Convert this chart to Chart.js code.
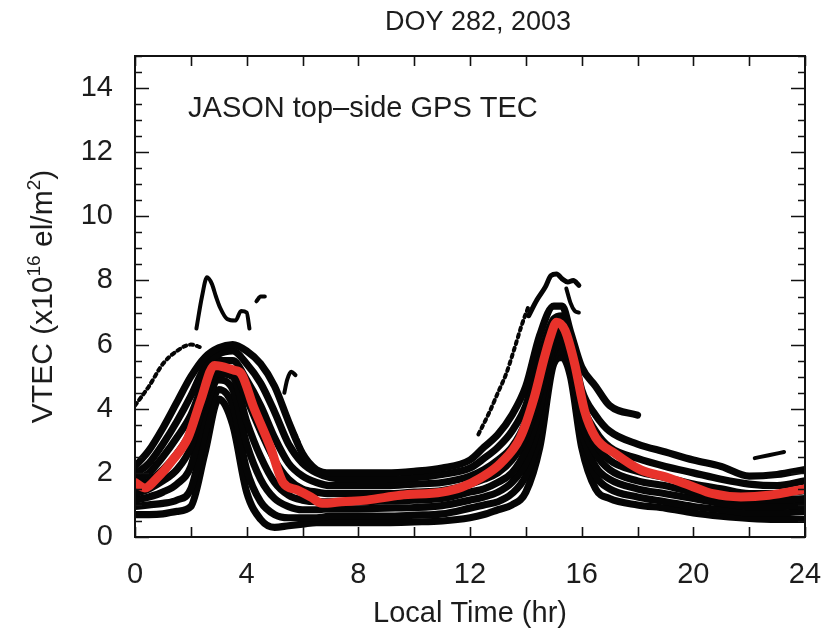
<!DOCTYPE html>
<html><head><meta charset="utf-8">
<script src="https://cdn.jsdelivr.net/npm/chart.js@4.4.1/dist/chart.umd.min.js"></script>
<style>html,body{margin:0;padding:0;background:#fff;}</style>
</head><body>
<canvas id="c" width="829" height="634"></canvas>
<script>
// ---------- text ----------
const chartTitle = 'DOY 282, 2003';
const xAxisTitle = 'Local Time (hr)';
const panelLabel = 'JASON top\u2013side GPS TEC';

// ---------- tick labels ----------
const xTickLabels = [0, 4, 8, 12, 16, 20, 24];
const yTickLabels = [0, 2, 4, 6, 8, 10, 12, 14];

// ---------- black pass tracks (local time in hr, VTEC in 1e16 el/m^2) ----------
const trackHours = [0,0.5,1,1.5,2,2.5,3,3.5,4,4.5,5,5.5,6,6.5,7,8,9,10,11,12,12.5,13,13.5,14,14.5,15,15.3,15.6,16,16.5,17,18,19,20,21,22,23,24];
const track1 = [2.2,2.7,3.4,4.2,5.0,5.6,5.9,6.0,5.8,5.4,4.7,3.6,2.6,2.1,2.0, 2.0,2.0,2.05,2.15, 2.4,2.8,3.2,3.8,4.7,6.3,7.2, 7.2,6.4, 5.3,4.7,4.1, 3.8,null,null,null,null,null,null];
const track2 = [1.95,2.3,2.9,3.6,4.4,5.3,5.7,5.8,5.4,4.8,3.9,2.9,2.3,2.0,1.85, 1.8,1.8,1.85,1.95, 2.15,2.45,2.8,3.3,4.1,5.6,6.8, 6.9,6.2, 4.6,3.8,3.3, 2.9,2.65,2.4,2.2,1.9,1.95,2.1];
const track3 = [1.75,2.0,2.5,3.1,3.8,4.9,5.5,5.5,4.9,4.1,3.1,2.3,1.9,1.7,1.6, 1.6,1.6,1.65,1.7, 1.9,2.1,2.4,2.8,3.6,5.0,6.5, 6.6,6.0, 4.2,3.3,2.8, 2.45,2.2,2.0,1.8,1.65,1.6,1.75];
const track4 = [1.55,1.75,2.1,2.6,3.3,4.6,5.3,5.2,4.3,3.3,2.4,1.8,1.5,1.4,1.35, 1.35,1.35,1.4,1.45, 1.65,1.8,2.0,2.4,3.1,4.5,6.2, 6.4,5.8, 3.9,2.9,2.4, 2.05,1.85,1.65,1.5,1.35,1.35,1.45];
const track5 = [1.35,1.5,1.75,2.1,2.8,4.3,5.1,5.0,3.6,2.5,1.7,1.3,1.15,1.1,1.1, 1.1,1.12,1.15,1.2, 1.4,1.5,1.7,2.0,2.7,4.0,6.0, 6.2,5.6, 3.6,2.6,2.1, 1.75,1.6,1.4,1.25,1.15,1.15,1.2];
const track6 = [1.15,1.25,1.4,1.65,2.2,3.9,4.9,4.6,2.9,1.8,1.2,0.95,0.85,0.85,0.88, 0.88,0.9,0.92,0.98, 1.15,1.25,1.4,1.7,2.3,3.6,5.8, 6.0,5.4, 3.3,2.2,1.8, 1.5,1.35,1.2,1.05,0.95,0.95,1.0];
const track7 = [0.95,1.0,1.05,1.15,1.5,3.2,4.6,4.1,2.1,1.1,0.7,0.6,0.6,0.6,0.65, 0.65,0.65,0.68,0.72, 0.9,1.0,1.1,1.35,1.9,3.2,5.6, 5.8,5.2, 3.0,1.9,1.5, 1.25,1.1,0.95,0.85,0.75,0.75,0.8];
const track8 = [0.7,0.7,0.72,0.8,0.95,2.6,4.3,3.5,1.4,0.55,0.3,0.35,0.4,0.45,0.45, 0.45,0.45,0.47,0.5, 0.6,0.7,0.85,1.0,1.4,2.8,5.4, 5.6,5.0, 2.8,1.5,1.2, 1.0,0.9,0.75,0.65,0.58,0.55,0.55];

// ---------- isolated / partial passes ----------
const amEarlyHours = [0, 0.5, 1, 1.5, 2, 2.4];
const amEarlyVTEC  = [4.1, 4.7, 5.4, 5.8, 6.0, 5.9];
const amSpikeHours = [2.2, 2.4, 2.58, 2.75, 2.9, 3.05, 3.3, 3.6, 3.8, 4.0, 4.1];
const amSpikeVTEC  = [6.5, 7.5, 8.1, 7.9, 7.5, 7.15, 6.8, 6.75, 7.05, 7.0, 6.5];
const amDashHours  = [4.35, 4.5, 4.65];
const amDashVTEC   = [7.35, 7.5, 7.5];
const amHookHours  = [5.35, 5.45, 5.6, 5.75];
const amHookVTEC   = [4.5, 4.9, 5.15, 5.05];
const amDotsHours  = [5.6, 5.8, 5.95];
const amDotsVTEC   = [3.4, 3.1, 2.75];
const pmRiseHours  = [12.3, 12.7, 13.0, 13.3, 13.6, 13.85, 14.1];
const pmRiseVTEC   = [3.2, 3.9, 4.5, 5.1, 5.9, 6.6, 7.2];
const pmSpikeHours = [14.1, 14.4, 14.7, 14.9, 15.1, 15.3, 15.5, 15.7, 15.9];
const pmSpikeVTEC  = [6.9, 7.4, 7.8, 8.15, 8.2, 8.05, 7.95, 8.0, 7.85];
const pmHookHours  = [15.45, 15.6, 15.75, 15.9];
const pmHookVTEC   = [7.75, 7.3, 7.05, 7.0];
const pmDashHours  = [22.2, 22.7, 23.25];
const pmDashVTEC   = [2.46, 2.55, 2.65];

// ---------- red mean curve ----------
const meanHours = [0,0.35,0.8,1.3,1.9,2.35,2.85,3.2,3.55,3.8,4.25,4.85,5.3,5.8,6.3,6.7,7.4,8.3,9.5,11,11.7,12.4,13.1,13.8,14.3,14.65,14.9,15.1,15.4,15.75,16.1,16.5,17.2,18.1,19.1,19.9,20.7,21.7,22.7,24];
const meanVTEC  = [1.7,1.53,1.85,2.35,3.1,4.25,5.35,5.3,5.2,5.1,4.05,2.8,1.7,1.47,1.25,1.05,1.1,1.15,1.3,1.4,1.55,1.85,2.3,3.1,4.35,5.55,6.3,6.7,6.45,5.4,3.95,3.1,2.6,2.1,1.85,1.6,1.35,1.25,1.3,1.5];

function pts(xs, ys) {
  const out = [];
  xs.forEach((x, i) => { if (ys[i] !== null && ys[i] !== undefined) out.push({x: x, y: ys[i]}); });
  return out;
}

const FONT = '"Liberation Sans", Arial, Helvetica, sans-serif';
const TEXT = '#1c1c1c';
const BLACK = '#050505';
const RED = '#e8322b';

function trackDS(xs, ys, w) {
  return { data: pts(xs, ys), borderColor: BLACK, borderWidth: w || 7.2, pointRadius: 0,
           showLine: true, cubicInterpolationMode: 'monotone', borderCapStyle: 'round',
           borderJoinStyle: 'round', order: 1 };
}
function dottedDS(xs, ys) {
  const d = trackDS(xs, ys, 4);
  d.borderDash = [3, 4];
  return d;
}

const datasets = [
  { data: pts(meanHours, meanVTEC), borderColor: RED, borderWidth: 9, pointRadius: 0, showLine: true,
    cubicInterpolationMode: 'monotone', borderCapStyle: 'round', borderJoinStyle: 'round', order: 0 },
  trackDS(trackHours, track1), trackDS(trackHours, track2), trackDS(trackHours, track3),
  trackDS(trackHours, track4), trackDS(trackHours, track5), trackDS(trackHours, track6),
  trackDS(trackHours, track7), trackDS(trackHours, track8),
  dottedDS(amEarlyHours, amEarlyVTEC),
  trackDS(amSpikeHours, amSpikeVTEC, 4),
  trackDS(amDashHours, amDashVTEC, 4),
  trackDS(amHookHours, amHookVTEC, 4),
  dottedDS(amDotsHours, amDotsVTEC),
  dottedDS(pmRiseHours, pmRiseVTEC),
  trackDS(pmSpikeHours, pmSpikeVTEC, 5),
  trackDS(pmHookHours, pmHookVTEC, 4),
  trackDS(pmDashHours, pmDashVTEC, 4)
];

const framePlugin = {
  id: 'frame',
  afterDatasetsDraw(chart) {
    const {ctx, chartArea: a, scales: {x, y}} = chart;
    ctx.save();
    // ticks
    ctx.strokeStyle = '#111';
    ctx.lineWidth = 1.6;
    ctx.beginPath();
    for (let v = x.min; v <= x.max; v += 2) {
      const px = Math.round(x.getPixelForValue(v)) + 0.5;
      ctx.moveTo(px, a.bottom); ctx.lineTo(px, a.bottom - 10);
      ctx.moveTo(px, a.top); ctx.lineTo(px, a.top + 10);
    }
    for (let v = y.min; v <= y.max; v += 0.5) {
      const py = Math.round(y.getPixelForValue(v)) + 0.5;
      const len = yTickLabels.includes(v) ? 14 : 7;
      ctx.moveTo(a.left, py); ctx.lineTo(a.left + len, py);
      ctx.moveTo(a.right, py); ctx.lineTo(a.right - len, py);
    }
    ctx.stroke();
    // frame
    ctx.lineWidth = 2;
    ctx.strokeRect(a.left, a.top, a.right - a.left, a.bottom - a.top);
    // chart title
    ctx.fillStyle = TEXT;
    ctx.font = '27px ' + FONT;
    ctx.textAlign = 'center';
    ctx.textBaseline = 'middle';
    ctx.fillText(chartTitle, (a.left + a.right) / 2 + 8, 23);
    // panel label
    ctx.font = '29px ' + FONT;
    ctx.textAlign = 'left';
    ctx.fillText(panelLabel, x.getPixelForValue(1.9), y.getPixelForValue(13.35));
    // y axis title with superscripts
    const big = '30px ' + FONT, small = '19px ' + FONT;
    const parts = [['VTEC (x10', big, 0], ['16', small, -12], [' el/m', big, 0], ['2', small, -12], [')', big, 0]];
    let total = 0;
    parts.forEach(p => { ctx.font = p[1]; total += ctx.measureText(p[0]).width; });
    ctx.translate(41, (a.top + a.bottom) / 2);
    ctx.rotate(-Math.PI / 2);
    ctx.textBaseline = 'alphabetic';
    let cx = -total / 2;
    parts.forEach(p => { ctx.font = p[1]; ctx.fillText(p[0], cx, 11 + p[2]); cx += ctx.measureText(p[0]).width; });
    ctx.restore();
  }
};

new Chart(document.getElementById('c'), {
  type: 'scatter',
  data: { datasets: datasets },
  options: {
    responsive: false,
    animation: false,
    devicePixelRatio: 1,
    layout: { padding: { left: 0, right: 24, top: 56, bottom: 0 } },
    plugins: {
      legend: { display: false },
      tooltip: { enabled: false },
      title: { display: false }
    },
    scales: {
      x: {
        type: 'linear', min: 0, max: 24,
        afterBuildTicks: s => { s.ticks = xTickLabels.map(v => ({ value: v })); },
        afterFit: s => { s.height = 97; s.paddingLeft = 0; s.paddingRight = 0; },
        grid: { display: false, drawTicks: false },
        border: { display: false },
        ticks: { color: TEXT, font: { family: FONT, size: 29 }, padding: 21, maxRotation: 0, autoSkip: false },
        title: { display: true, text: xAxisTitle, color: TEXT, font: { family: FONT, size: 29 }, padding: { top: 0, bottom: 3 } }
      },
      y: {
        type: 'linear', min: 0, max: 15,
        afterBuildTicks: s => { s.ticks = yTickLabels.map(v => ({ value: v })); },
        afterFit: s => { s.width = 135; s.paddingTop = 0; s.paddingBottom = 0; },
        grid: { display: false, drawTicks: false },
        border: { display: false },
        ticks: { color: TEXT, font: { family: FONT, size: 29 }, padding: 22, autoSkip: false }
      }
    }
  },
  plugins: [framePlugin]
});
</script>
</body></html>
